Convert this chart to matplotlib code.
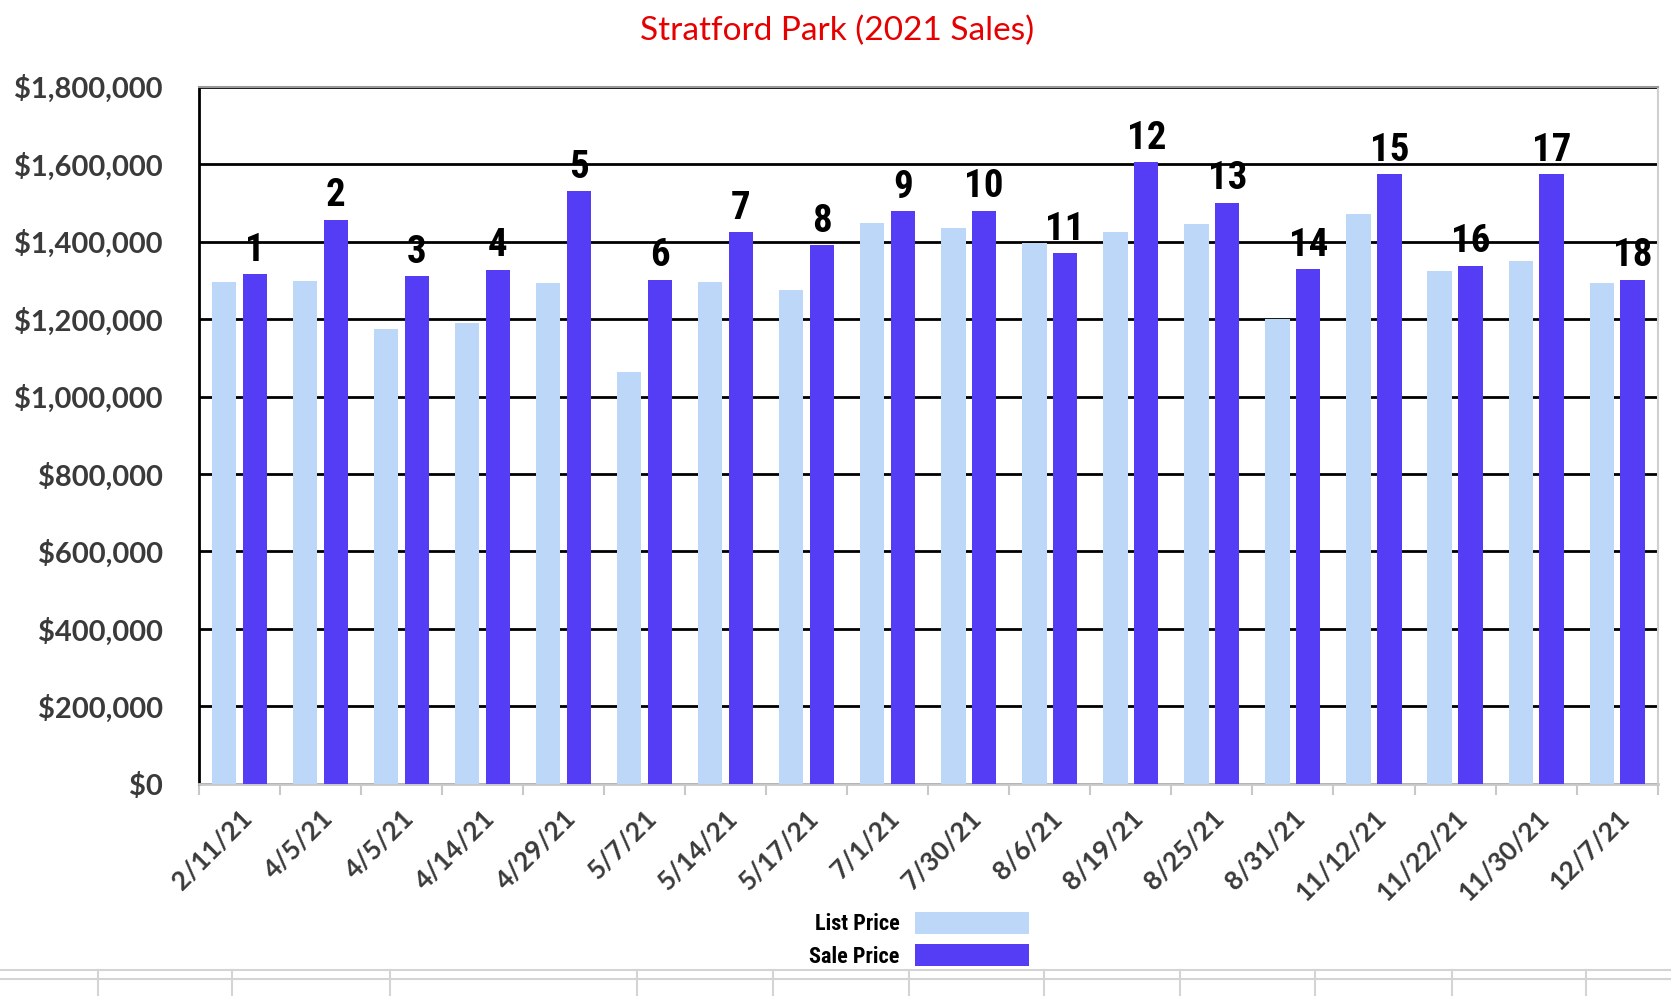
import matplotlib
matplotlib.use("Agg")
from matplotlib import pyplot as plt
from matplotlib.lines import Line2D
from matplotlib.ticker import FuncFormatter, FixedLocator
import numpy as np

# sale dates (x categories)
dates = ['2/11/21', '4/5/21', '4/5/21', '4/14/21', '4/29/21', '5/7/21', '5/14/21',
         '5/17/21', '7/1/21', '7/30/21', '8/6/21', '8/19/21', '8/25/21', '8/31/21',
         '11/12/21', '11/22/21', '11/30/21', '12/7/21']

list_price = [1295000, 1299000, 1174000, 1190000, 1294000, 1064000, 1295000,
              1274000, 1447000, 1436000, 1396000, 1424000, 1446000, 1200000,
              1472000, 1323000, 1351000, 1292000]

sale_price = [1316000, 1456000, 1310000, 1327000, 1530000, 1301000, 1424000,
              1391000, 1478000, 1479000, 1370000, 1605000, 1500000, 1328000,
              1574000, 1337000, 1574000, 1302000]

sale_number = [str(i + 1) for i in range(len(dates))]

LIGHT = '#bdd7f8'
DARK = '#553cf5'
GREY_TXT = '#3a3a3a'
narrow = ['Roboto Condensed', 'Liberation Sans Narrow', 'Liberation Sans', 'DejaVu Sans']

fig = plt.figure(figsize=(16.71, 9.96), dpi=100)
ax = fig.add_axes([0.119, 0.213, 0.873, 0.70])

x = np.arange(len(dates))
w = 0.30
ax.bar(x - 0.19, list_price, w, color=LIGHT, label='List Price', zorder=3)
bars = ax.bar(x + 0.19, sale_price, w, color=DARK, label='Sale Price', zorder=3)
ax.bar_label(bars, labels=sale_number, padding=4, fontsize=28, fontweight='bold',
             family=narrow, color='black')

ax.set_xlim(-0.5, len(dates) - 0.5)
ax.set_ylim(0, 1800000)
ax.set_yticks(np.arange(0, 1800001, 200000))
ax.yaxis.set_major_formatter(FuncFormatter(lambda v, p: '${:,.0f}'.format(v)))
ax.grid(axis='y', color='black', linewidth=2, zorder=1)
ax.set_axisbelow(True)

ax.set_xticks(x)
ax.set_xticklabels(dates, rotation=45, ha='right', rotation_mode='anchor')
ax.xaxis.set_minor_locator(FixedLocator(np.arange(-0.5, len(dates), 1)))
ax.tick_params(axis='x', which='major', length=0, pad=16, labelsize=19, labelcolor=GREY_TXT)
ax.tick_params(axis='x', which='minor', length=8, width=1.5, color='#c8c8c8')
ax.tick_params(axis='y', length=0, pad=26, labelsize=21, labelcolor=GREY_TXT)
for lab in ax.get_xticklabels() + ax.get_yticklabels():
    lab.set_family('Lato')
    lab.set_fontweight('bold')

ax.spines['left'].set_color('black')
ax.spines['left'].set_linewidth(2)
ax.spines['bottom'].set_color('#c8c8c8')
ax.spines['bottom'].set_linewidth(2)
ax.spines['top'].set_color('#9a9a9a')
ax.spines['top'].set_linewidth(1.5)
ax.spines['right'].set_color('#d0d0d0')
ax.spines['right'].set_linewidth(1.5)

fig.text(0.501, 0.969, 'Stratford Park (2021 Sales)', ha='center', va='center',
         color='#e60000', fontsize=24, family='Lato')

leg = fig.legend(loc='center', bbox_to_anchor=(0.550, 0.0565), frameon=False,
                 markerfirst=False, handlelength=5.1, handleheight=1.13,
                 labelspacing=0.4, handletextpad=0.7,
                 prop={'family': narrow, 'weight': 'bold', 'size': 16})

# spreadsheet cell lines behind the chart
for yy in (970, 979):
    fig.add_artist(Line2D([0, 1], [1 - yy / 996, 1 - yy / 996], color='#d4d4d4', lw=1.5))
for xx in (98, 232, 390, 637, 773, 909, 1044, 1180, 1315, 1452, 1586):
    fig.add_artist(Line2D([xx / 1671, xx / 1671], [1 - 970 / 996, 0], color='#d4d4d4', lw=1.5))

fig.savefig('out.png', dpi=100)
